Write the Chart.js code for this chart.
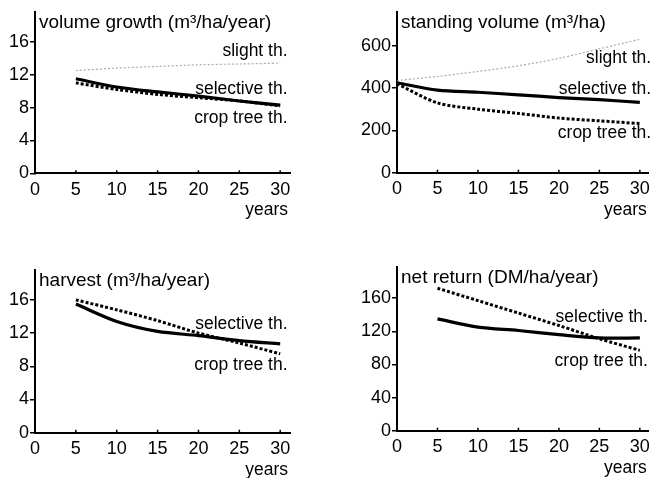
<!DOCTYPE html>
<html>
<head>
<meta charset="utf-8">
<script src="https://cdn.jsdelivr.net/npm/chart.js@4"></script>
<style>
  body { margin: 0; background: #fff; }
  #wrap { position: relative; width: 656px; height: 478px; overflow: hidden; }
  canvas { position: absolute; }
</style>
</head>
<body>
<div id="wrap">
  <canvas id="growth" width="328" height="238" style="left:0;top:0"></canvas>
  <canvas id="volume" width="328" height="238" style="left:328px;top:0"></canvas>
  <canvas id="harvest" width="328" height="240" style="left:0;top:238px"></canvas>
  <canvas id="netreturn" width="328" height="240" style="left:328px;top:238px"></canvas>
</div>
<script>
// values (years since start of thinning)
const yearsFrom0 = [0, 5, 10, 15, 20, 25, 30];
const yearsFrom5 = [5, 10, 15, 20, 25, 30];
const xTicks = [0, 5, 10, 15, 20, 25, 30];

const growthSlight = [12.5, 12.8, 13.0, 13.2, 13.3, 13.4];
const growthSelective = [11.5, 10.5, 9.9, 9.4, 8.8, 8.3];
const growthCropTree = [11.0, 10.2, 9.6, 9.2, 8.8, 8.2];
const growthTicks = [0, 4, 8, 12, 16];

const volumeSlight = [435, 455, 478, 505, 540, 585, 630];
const volumeSelective = [425, 390, 380, 368, 355, 345, 332];
const volumeCropTree = [420, 330, 300, 280, 258, 245, 232];
const volumeTicks = [0, 200, 400, 600];

const harvestSelective = [15.5, 13.4, 12.2, 11.7, 11.1, 10.7];
const harvestCropTree = [16.0, 14.8, 13.5, 12.0, 10.8, 9.5];
const harvestTicks = [0, 4, 8, 12, 16];

const returnSelective = [135, 125, 121, 116, 112, 112];
const returnCropTree = [172, 157, 142, 127, 111, 97];
const returnTicks = [0, 40, 80, 120, 160];

const FONT = '"Liberation Sans", Arial, sans-serif';
Chart.defaults.font.family = FONT;
Chart.defaults.font.size = 18;
Chart.defaults.color = "#000";

function points(xs, ys) {
  return ys.map((v, i) => ({ x: xs[i], y: v }));
}

const styles = {
  slight: { borderColor: "rgba(150,150,150,0.8)", borderWidth: 1.2, borderDash: [2, 2] },
  selective: { borderColor: "#000", borderWidth: 3.2 },
  cropTree: { borderColor: "#000", borderWidth: 3, borderDash: [3, 2] },
};

// draws the panel title, "years", series labels and the small x tick marks
const annotate = {
  id: "annotate",
  afterDraw(chart, args, opts) {
    const { ctx, chartArea, scales } = chart;
    const x = scales.x, y = scales.y;
    ctx.save();
    ctx.strokeStyle = "#000";
    ctx.lineWidth = 1.5;
    xTicks.forEach((t) => {
      const px = x.getPixelForValue(t);
      ctx.beginPath();
      ctx.moveTo(px, chartArea.bottom);
      ctx.lineTo(px, chartArea.bottom - 3);
      ctx.stroke();
    });
    ctx.fillStyle = "#000";
    ctx.textBaseline = "middle";
    ctx.textAlign = "left";
    ctx.font = "19px " + FONT;
    ctx.fillText(opts.title, chartArea.left + 4, chartArea.top + 11);
    ctx.font = "17.5px " + FONT;
    ctx.textAlign = "right";
    ctx.fillText("years", chartArea.right - 2, chartArea.bottom + 37);
    opts.labels.forEach((l) => {
      ctx.fillText(l.text, x.getPixelForValue(l.x), y.getPixelForValue(l.y));
    });
    ctx.restore();
  },
};

function makeChart(id, cfg) {
  const datasets = cfg.series.map((s) => ({
    data: s.data,
    ...styles[s.style],
    pointRadius: 0,
    tension: 0.3,
    fill: false,
  }));
  return new Chart(document.getElementById(id), {
    type: "line",
    data: { datasets: datasets },
    plugins: [annotate],
    options: {
      responsive: false,
      animation: false,
      layout: { padding: cfg.padding },
      plugins: {
        legend: { display: false },
        tooltip: { enabled: false },
        annotate: { title: cfg.title, labels: cfg.labels },
      },
      scales: {
        x: {
          type: "linear",
          min: 0,
          max: cfg.xMax,
          afterBuildTicks: (scale) => { scale.ticks = xTicks.map((v) => ({ value: v })); },
          afterFit: (scale) => { scale.height = cfg.xHeight; },
          ticks: { padding: 6, maxRotation: 0 },
          grid: { drawOnChartArea: false, drawTicks: false },
          border: { display: true, color: "#000", width: 2 },
        },
        y: {
          min: 0,
          max: cfg.yMax,
          afterBuildTicks: (scale) => { scale.ticks = cfg.yTicks.map((v) => ({ value: v })); },
          afterFit: (scale) => { scale.width = cfg.yWidth; },
          ticks: { padding: 1 },
          grid: { drawOnChartArea: false, drawTicks: true, tickLength: 5, color: "#000", lineWidth: 1.5 },
          border: { display: true, color: "#000", width: 2 },
        },
      },
    },
  });
}

makeChart("growth", {
  title: "volume growth (m³/ha/year)",
  series: [
    { data: points(yearsFrom5, growthSlight), style: "slight" },
    { data: points(yearsFrom5, growthCropTree), style: "cropTree" },
    { data: points(yearsFrom5, growthSelective), style: "selective" },
  ],
  labels: [
    { text: "slight th.", x: 30.9, y: 14.8 },
    { text: "selective th.", x: 30.9, y: 10.2 },
    { text: "crop tree th.", x: 30.9, y: 6.7 },
  ],
  yTicks: growthTicks, yMax: 19.65, xMax: 31.2,
  padding: { top: 10, right: 38, left: 0, bottom: 0 },
  yWidth: 35, xHeight: 64.7,
});

makeChart("volume", {
  title: "standing volume (m³/ha)",
  series: [
    { data: points(yearsFrom0, volumeSlight), style: "slight" },
    { data: points(yearsFrom0, volumeCropTree), style: "cropTree" },
    { data: points(yearsFrom0, volumeSelective), style: "selective" },
  ],
  labels: [
    { text: "slight th.", x: 31.4, y: 540 },
    { text: "selective th.", x: 31.4, y: 395 },
    { text: "crop tree th.", x: 31.4, y: 187 },
  ],
  yTicks: volumeTicks, yMax: 760, xMax: 31.1,
  padding: { top: 10, right: 4, left: 0, bottom: 0 },
  yWidth: 69, xHeight: 65.3,
});

makeChart("harvest", {
  title: "harvest (m³/ha/year)",
  series: [
    { data: points(yearsFrom5, harvestCropTree), style: "cropTree" },
    { data: points(yearsFrom5, harvestSelective), style: "selective" },
  ],
  labels: [
    { text: "selective th.", x: 30.9, y: 13.05 },
    { text: "crop tree th.", x: 30.9, y: 8.15 },
  ],
  yTicks: harvestTicks, yMax: 19.6, xMax: 31.2,
  padding: { top: 32, right: 38, left: 0, bottom: 0 },
  yWidth: 35, xHeight: 45.3,
});

makeChart("netreturn", {
  title: "net return (DM/ha/year)",
  series: [
    { data: points(yearsFrom5, returnCropTree), style: "cropTree" },
    { data: points(yearsFrom5, returnSelective), style: "selective" },
  ],
  labels: [
    { text: "selective th.", x: 31.0, y: 136.5 },
    { text: "crop tree th.", x: 31.0, y: 83.4 },
  ],
  yTicks: returnTicks, yMax: 198, xMax: 31.1,
  padding: { top: 28.7, right: 4, left: 0, bottom: 0 },
  yWidth: 69, xHeight: 47.3,
});
</script>
</body>
</html>
